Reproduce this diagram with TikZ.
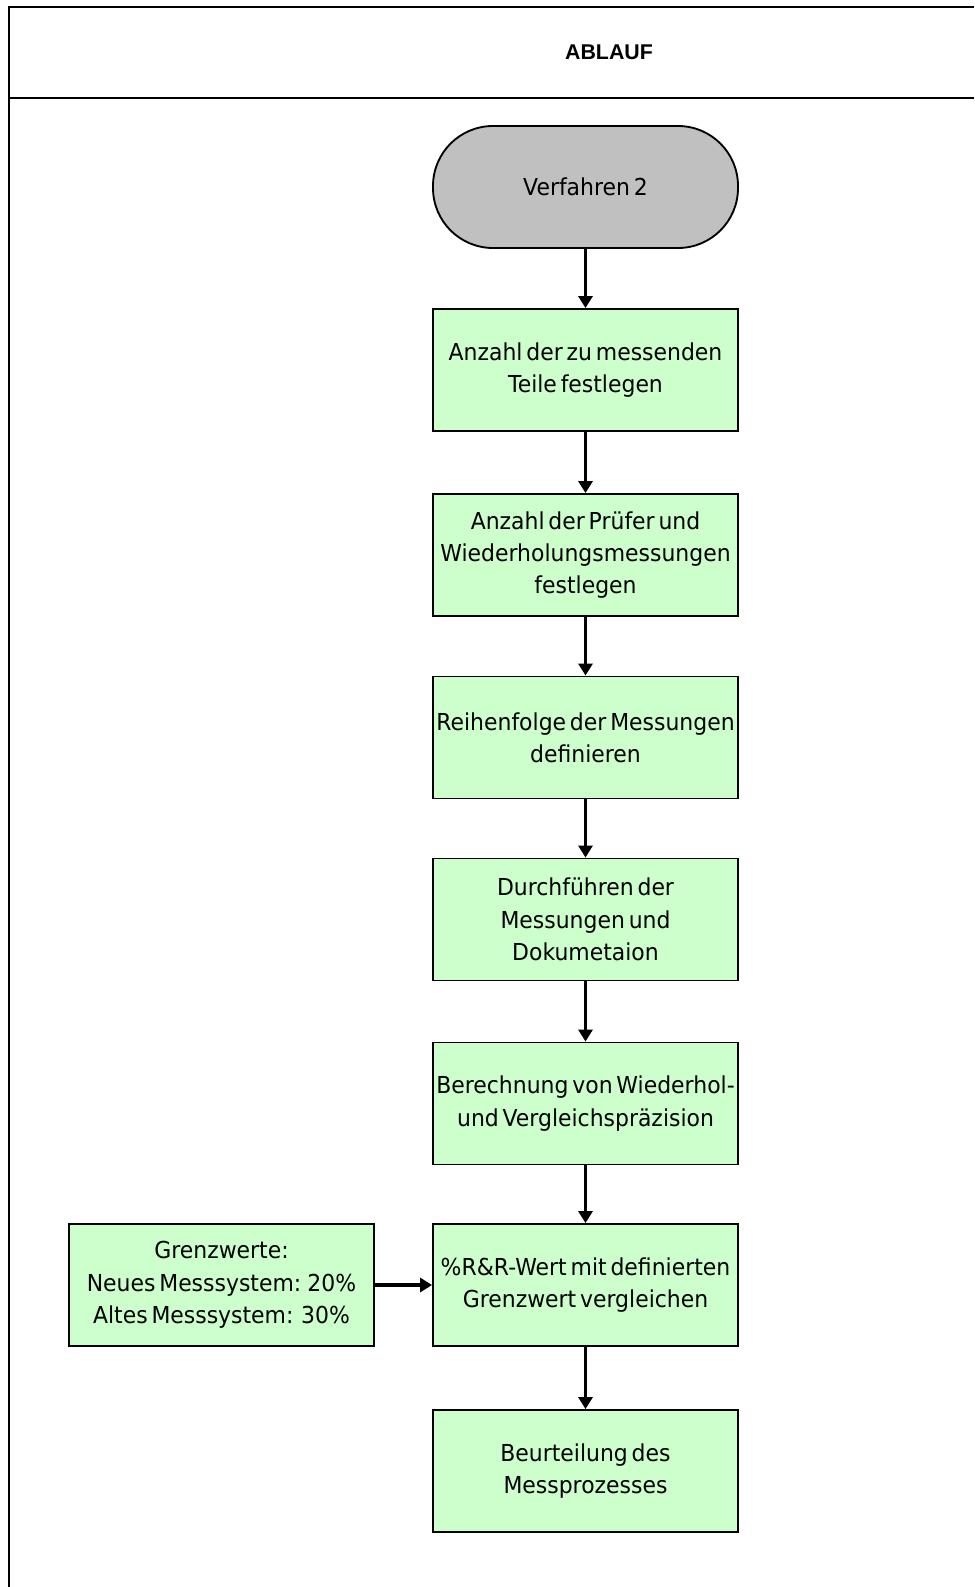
\documentclass[tikz,border=0pt]{standalone}
\usepackage{fontspec}
\setmainfont[FakeStretch=0.94,WordSpace=0.55]{DejaVu Sans}
\newfontfamily\headfont{Liberation Sans}
\usetikzlibrary{arrows.meta}
\definecolor{boxgreen}{HTML}{CCFFCC}
\definecolor{startgray}{HTML}{C0C0C0}
\begin{document}
\begin{tikzpicture}[x=0.75pt, y=-0.75pt, line width=1.4pt,
  box node/.style={rectangle, draw, fill=boxgreen, minimum width=228.75pt, minimum height=91.5pt, inner sep=0pt, align=center, font=\fontsize{17.5}{24.3}\selectfont},
  start node/.style={box node, fill=startgray, rounded corners=45pt},
  flow/.style={-{Triangle[width=10.5pt,length=9pt]}, line width=2.4pt}]
\useasboundingbox (0,0) rectangle (974,1587);
% frame
\draw[line width=2pt] (974,7) -- (9,7) -- (9,1587);
\draw[line width=2pt] (9,98) -- (974,98);
\node[font=\headfont\bfseries\fontsize{16}{19}\selectfont] (head) at (609,52) {ABLAUF};
\node[start node] (v0) at (585.5,187) {Verfahren 2};
\node[box node] (v1) at (585.5,370) {Anzahl der zu messenden\\Teile festlegen};
\node[box node] (v2) at (585.5,555) {Anzahl der Prüfer und\\Wiederholungsmessungen\\festlegen};
\node[box node] (v3) at (585.5,737.5) {Reihenfolge der Messungen\\definieren};
\node[box node] (v4) at (585.5,919.5) {Durchführen der\\Messungen und\\Dokumetaion};
\node[box node] (v5) at (585.5,1103.5) {Berechnung von Wiederhol-\\und Vergleichspräzision};
\node[box node] (v6) at (585.5,1285) {\%R\&R-Wert mit definierten\\Grenzwert vergleichen};
\node[box node] (v7) at (585.5,1471) {Beurteilung des\\Messprozesses};
\node[box node] (lim) at (221.5,1285) {Grenzwerte:\\Neues Messsystem: 20\%\\Altes Messsystem:\ \ 30\%};
\draw[flow] (v0) -- (v1);
\draw[flow] (v1) -- (v2);
\draw[flow] (v2) -- (v3);
\draw[flow] (v3) -- (v4);
\draw[flow] (v4) -- (v5);
\draw[flow] (v5) -- (v6);
\draw[flow] (v6) -- (v7);
\draw[flow] (lim) -- (v6);
\end{tikzpicture}
\end{document}
